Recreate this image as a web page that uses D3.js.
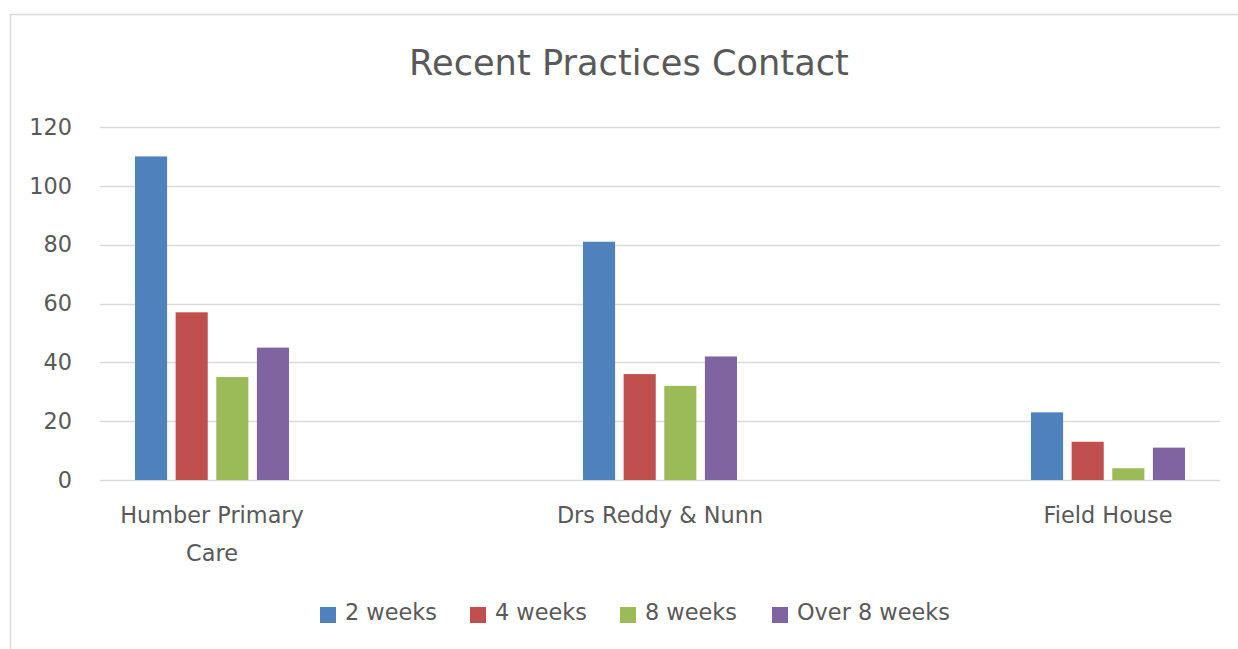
<html>
  <head>
    <meta charset="utf-8">
    <title>Recent Practices Contact</title>
    <style>
      body {
        margin: 0;
        background: white;
      }
      text {
        font-family: "DejaVu Sans", Verdana, sans-serif;
        fill: #595959;
      }
    </style>
    <script src="https://d3js.org/d3.v7.min.js"></script>
  </head>
  <body>
    <svg id="chart"></svg>
    <script>
      // Data
      let practices = ['Humber Primary Care', 'Drs Reddy & Nunn', 'Field House'];
      let periods = ['2 weeks', '4 weeks', '8 weeks', 'Over 8 weeks'];
      let colours = ['#4f81bd', '#c0504d', '#9bbb59', '#8064a2'];
      let twoWeeks = [110, 81, 23];
      let fourWeeks = [57, 36, 13];
      let eightWeeks = [35, 32, 4];
      let overEight = [45, 42, 11];
      let yTicks = [0, 20, 40, 60, 80, 100, 120];

      let seriesValues = [twoWeeks, fourWeeks, eightWeeks, overEight];

      let width = 1238;
      let height = 649;
      let labelSize = '22.4px';

      let svg = d3.select('#chart')
        .attr('width', width)
        .attr('height', height);

      // chart border
      svg.append('rect')
        .attr('x', 10.5)
        .attr('y', 14.5)
        .attr('width', width)
        .attr('height', height)
        .attr('fill', 'white')
        .attr('stroke', '#d9d9d9')
        .attr('stroke-width', 1.5);

      // title
      svg.append('text')
        .attr('x', 629)
        .attr('y', 75)
        .attr('text-anchor', 'middle')
        .style('font-size', '35.2px')
        .text('Recent Practices Contact');

      let plotLeft = 100;
      let plotRight = 1220;

      let yScale = d3.scaleLinear()
        .domain([0, 120])
        .range([480, 127]);

      // category centres
      let xScale = d3.scalePoint()
        .domain(practices)
        .range([212, 1108]);

      // bars within a category
      let xInner = d3.scaleBand()
        .domain(periods)
        .range([-77, 77])
        .paddingInner(0.21);

      // gridlines
      svg.append('g')
        .selectAll('line')
        .data(yTicks)
        .join('line')
        .attr('x1', plotLeft)
        .attr('x2', plotRight)
        .attr('y1', d => Math.round(yScale(d)) + 0.5)
        .attr('y2', d => Math.round(yScale(d)) + 0.5)
        .attr('stroke', '#d9d9d9')
        .attr('stroke-width', 1.5);

      // y axis labels
      let yAxis = svg.append('g')
        .attr('transform', 'translate(72,0)')
        .call(d3.axisLeft(yScale).tickValues(yTicks).tickSize(0).tickPadding(0));
      yAxis.select('.domain').remove();
      yAxis.selectAll('text')
        .style('font-size', labelSize)
        .style('font-family', '"DejaVu Sans", Verdana, sans-serif')
        .attr('fill', '#595959');

      // bars
      let groups = svg.append('g')
        .selectAll('g')
        .data(periods)
        .join('g')
        .attr('fill', (d, i) => colours[i]);

      groups.selectAll('rect')
        .data((p, i) => practices.map((c, j) => ({ practice: c, period: p, value: seriesValues[i][j] })))
        .join('rect')
        .attr('x', d => xScale(d.practice) + xInner(d.period))
        .attr('width', xInner.bandwidth())
        .attr('y', d => yScale(d.value))
        .attr('height', d => yScale(0) - yScale(d.value));

      // category labels, wrapped like Excel does
      let catLines = {
        'Humber Primary Care': ['Humber Primary', 'Care'],
        'Drs Reddy & Nunn': ['Drs Reddy & Nunn'],
        'Field House': ['Field House']
      };
      let catLabels = svg.append('g')
        .selectAll('text')
        .data(practices)
        .join('text')
        .attr('x', d => xScale(d))
        .attr('y', 523)
        .attr('text-anchor', 'middle')
        .style('font-size', labelSize);
      catLabels.selectAll('tspan')
        .data(d => catLines[d])
        .join('tspan')
        .attr('x', function () { return this.parentNode.getAttribute('x'); })
        .attr('dy', (d, i) => i === 0 ? 0 : 38)
        .text(d => d);

      // legend
      let legendX = [320, 470, 620, 772];
      let legend = svg.append('g')
        .selectAll('g')
        .data(periods)
        .join('g')
        .attr('transform', (d, i) => `translate(${legendX[i]},607)`);
      legend.append('rect')
        .attr('width', 16)
        .attr('height', 16)
        .attr('fill', (d, i) => colours[i]);
      legend.append('text')
        .attr('x', 25)
        .attr('y', 13)
        .style('font-size', labelSize)
        .text(d => d);
    </script>
  </body>
</html>
